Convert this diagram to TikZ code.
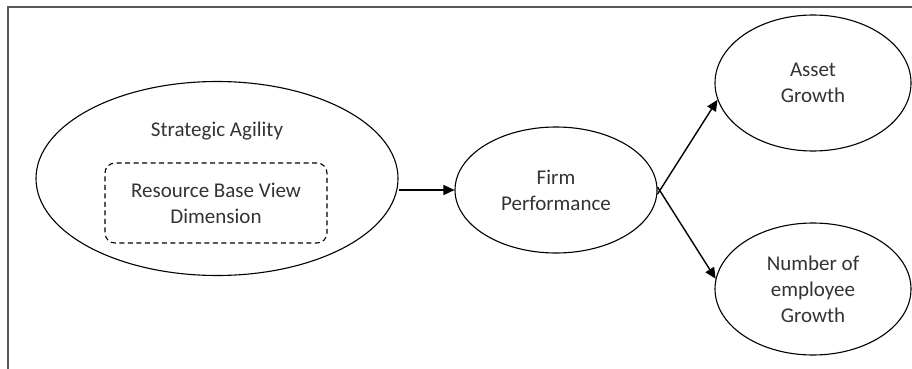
\documentclass[tikz,border=0pt]{standalone}
\usepackage{fontspec}
\setmainfont{Carlito}
\usetikzlibrary{shapes.geometric,arrows.meta}
\begin{document}
\begin{tikzpicture}[x=1pt,y=-1pt,
  oval/.style={draw=black,line width=1.1pt,ellipse,inner sep=0pt},
  lbl/.style={align=center,text=black!80,font=\fontsize{21}{26}\selectfont},
  conn/.style={line width=1.4pt,-{Triangle[length=11pt,width=10pt]}},
  framel/.style={draw=black!65,line width=2pt}]
\useasboundingbox (0,0) rectangle (912,369);
\draw[framel] (8,369) -- (8,7) -- (912,7);
\node[oval,minimum width=362pt,minimum height=194pt] (sa) at (217,178.5) {};
\node[lbl] (satxt) at (217,131) {Strategic Agility};
\node[draw=black,dash pattern=on 5pt off 3.5pt,line width=1.1pt,rounded corners=10pt,minimum width=222pt,minimum height=80pt,lbl] (rbv) at (216,203) {Resource Base View\\Dimension};
\node[oval,minimum width=202pt,minimum height=126pt,lbl] (fp) at (556,190) {Firm\\Performance};
\node[oval,minimum width=196pt,minimum height=136pt,lbl] (ag) at (813,83) {Asset\\Growth};
\node[oval,minimum width=196pt,minimum height=132pt,lbl] (eg) at (813,289) {Number of\\employee\\Growth};
\coordinate (s1) at ([yshift=-12pt]sa.east);
\draw[conn] (fp.west -| s1) -- (fp.west);
\draw[conn] ([yshift=-4pt]fp.east) -- (ag.190);
\draw[conn] ([yshift=3pt]fp.east) -- (eg.174);
\end{tikzpicture}
\end{document}
